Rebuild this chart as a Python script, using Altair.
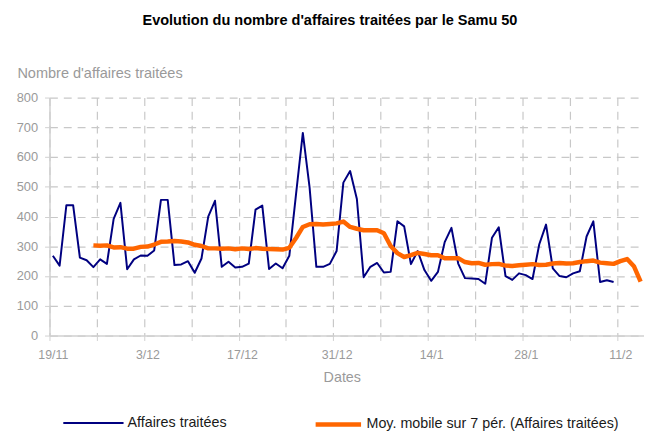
import altair as alt
import pandas as pd

# Daily values (19/11 -> 10/2), index 0 = 19/11
affaires = [268, 235, 438, 438, 262, 253, 230, 256, 241, 392, 446, 223, 256, 269,
            268, 286, 456, 456, 237, 239, 250, 211, 259, 400, 453, 231, 248, 229,
            231, 242, 423, 437, 224, 242, 226, 268, 476, 681, 498, 231, 231, 241,
            284, 514, 553, 459, 196, 231, 244, 212, 214, 384, 367, 240, 284, 220,
            184, 214, 314, 362, 242, 193, 192, 190, 174, 329, 364, 200, 187, 209,
            203, 190, 307, 373, 226, 200, 196, 209, 216, 333, 384, 180, 186, 180]
jours_affaires = list(range(len(affaires)))

# 7-period moving average as drawn (starts 25/11, index 6)
moyenne = [303, 302, 303, 296, 297, 292, 292, 298, 299, 306,
           315, 316, 318, 316, 313, 305, 301, 293, 293, 292,
           293, 290, 293, 291, 294, 292, 291, 290, 289, 295,
           328, 365, 374, 375, 373, 375, 377, 383, 365, 359,
           354, 354, 354, 344, 301, 277, 264, 270, 278, 274,
           270, 270, 260, 260, 260, 247, 243, 244, 238, 240,
           241, 235, 234, 236, 238, 240, 237, 238, 242, 244,
           242, 243, 247, 250, 252, 245, 243, 241, 250, 257,
           233, 181]
jours_moyenne = list(range(6, 6 + len(moyenne)))

tick_labels = ["19/11", "3/12", "17/12", "31/12", "14/1", "28/1", "11/2"]
y_ticks = [0, 100, 200, 300, 400, 500, 600, 700, 800]

serie1 = "Affaires traitées"
serie2 = "Moy. mobile sur 7 pér. (Affaires traitées)"

df1 = pd.DataFrame({"jour": jours_affaires, "valeur": affaires, "serie": serie1})
df2 = pd.DataFrame({"jour": jours_moyenne, "valeur": moyenne, "serie": serie2})

FONT = "Liberation Sans, Arial, sans-serif"
GRAY = "#9a9a9a"
GRID = "#c8c8c8"

week_values = [-0.5 + 7 * k for k in range(13)]
lab_arr = "[" + ",".join("'" + t + "'" for t in tick_labels) + "]"
label_expr = ("(round((datum.value+0.5)/7) % 2 == 0) ? " + lab_arr +
              "[round((datum.value+0.5)/14)] : ''")

x_enc = alt.X(
    "jour:Q",
    scale=alt.Scale(domain=[-0.5, 87.5], nice=False, zero=False),
    axis=alt.Axis(
        values=week_values, labelExpr=label_expr, labelFlush=False,
        labelOverlap=False, labelBound=False, labelOffset=3.4,
        grid=True, gridDash=[8, 6], gridColor=GRID, gridWidth=1.2,
        domainColor="#d0d0d0", domainWidth=1.5, tickColor="#d0d0d0",
        tickSize=5, labelPadding=8, labelFont=FONT, labelFontSize=12.5,
        labelColor=GRAY, title="Dates", titleFont=FONT, titleFontSize=14.5,
        titleFontWeight="normal", titleColor=GRAY, titleX=296, titleY=43,
        titleBaseline="middle", titleAlign="center",
    ),
)
y_enc = alt.Y(
    "valeur:Q",
    scale=alt.Scale(domain=[0, 800], nice=False),
    axis=alt.Axis(
        values=y_ticks, grid=True, gridDash=[8, 6], gridColor=GRID,
        gridWidth=1.2, domainColor="#d0d0d0", domainWidth=1.5,
        tickColor="#d0d0d0", tickSize=5, labelPadding=7, labelFont=FONT,
        labelFontSize=13, labelColor=GRAY, title="Nombre d'affaires traitées",
        titleFont=FONT, titleFontSize=14.7, titleFontWeight="normal",
        titleColor=GRAY, titleAngle=0, titleX=-33, titleY=-24,
        titleAlign="left", titleBaseline="middle",
    ),
)

blue = alt.Chart(df1).mark_line(strokeWidth=2, strokeJoin="round").encode(
    x=x_enc, y=y_enc,
    color=alt.Color("serie:N", scale=alt.Scale(domain=[serie1], range=["#000080"]),
                    legend=alt.Legend(orient="none", legendX=13, legendY=298,
                                      title=None, symbolType="stroke",
                                      symbolSize=3721, symbolStrokeWidth=2,
                                      labelFont=FONT, labelFontSize=14.5,
                                      labelColor="#1a1a1a", labelOffset=3,
                                      labelLimit=400, padding=0)),
)
orange = alt.Chart(df2).mark_line(strokeWidth=4.5, strokeJoin="round").encode(
    x=x_enc, y=y_enc,
    color=alt.Color("serie:N", scale=alt.Scale(domain=[serie2], range=["#ff6600"]),
                    legend=alt.Legend(orient="none", legendX=267, legendY=305.5,
                                      title=None, symbolType="stroke",
                                      symbolSize=2116, symbolStrokeWidth=4.5,
                                      labelFont=FONT, labelFontSize=14.5,
                                      labelColor="#1a1a1a", labelOffset=3,
                                      labelLimit=400, padding=0)),
)

chart = alt.layer(blue, orange).resolve_scale(color="independent").properties(
    width=602, height=241,
    autosize=alt.AutoSizeParams(type="none"),
    padding={"left": 42, "top": 88, "right": 0, "bottom": 95},
    title=alt.TitleParams(
        text="Evolution du nombre d'affaires traitées par le Samu 50",
        font=FONT, fontSize=14.7, fontWeight="bold", color="#000000",
        anchor="middle", frame="group", dx=-17, dy=-35,
    ),
).configure_view(strokeWidth=0)

chart.save("out.html", embed_options={"renderer": "svg", "actions": False})
